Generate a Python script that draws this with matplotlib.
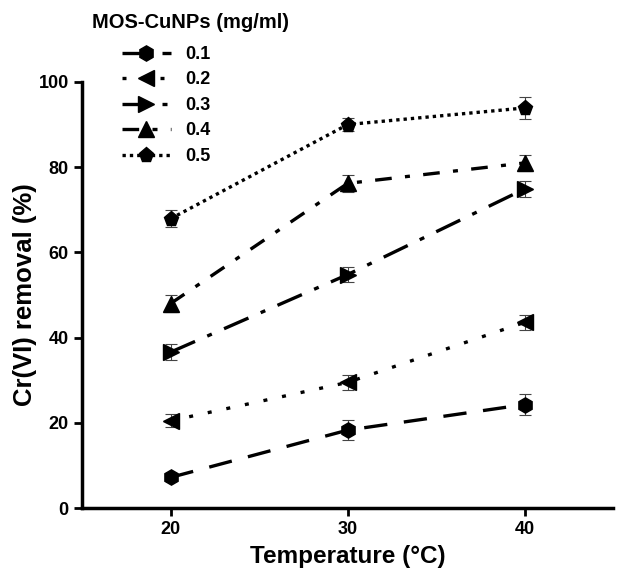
import numpy as np
import matplotlib.pyplot as plt

plt.rcParams['font.family'] = ['Liberation Sans', 'DejaVu Sans']
plt.rcParams['font.weight'] = 'bold'

temps = [20, 30, 40]
doses = ['0.1', '0.2', '0.3', '0.4', '0.5']
removal = {
    '0.1': [7.2, 18.3, 24.3],
    '0.2': [20.5, 29.5, 43.6],
    '0.3': [36.6, 54.8, 74.9],
    '0.4': [48.0, 76.2, 81.0],
    '0.5': [67.9, 90.0, 93.9],
}
errors = {
    '0.1': [0.8, 2.3, 2.5],
    '0.2': [1.5, 1.8, 1.8],
    '0.3': [1.8, 1.8, 1.8],
    '0.4': [2.0, 2.0, 1.8],
    '0.5': [2.0, 1.5, 2.5],
}
markers = ['h', '<', '>', '^', 'p']
styles = [(0, (7, 5)), (0, (1.2, 4.5)), (0, (8, 4, 1.5, 4)), (0, (5, 4, 1.5, 4)), (0, (1, 1.2))]

W, H = 617, 569
fig = plt.figure(figsize=(W / 100, H / 100), dpi=100)
ax = fig.add_axes([0.133, 0.107, 0.861, 0.749])

for d, m, ls in zip(doses, markers, styles):
    ax.errorbar(temps, removal[d], yerr=errors[d], fmt='none', ecolor='#444444',
                elinewidth=0.8, capsize=4, capthick=0.8, zorder=2)
    ax.plot(temps, removal[d], color='black', linestyle=ls, linewidth=2.4,
            marker=m, markersize=11, label=d, zorder=3)

ax.set_xlim(15, 45)
ax.set_ylim(0, 100)
ax.set_xticks(temps)
ax.set_yticks([0, 20, 40, 60, 80, 100])
ax.tick_params(width=2, length=6, labelsize=13)
for s in ['top', 'right']:
    ax.spines[s].set_visible(False)
for s in ['left', 'bottom']:
    ax.spines[s].set_linewidth(2.5)

ax.set_xlabel('Temperature (°C)', fontsize=17.5, fontweight='bold', labelpad=5)
ax.set_ylabel('Cr(VI) removal (%)', fontsize=18.5, fontweight='bold', labelpad=1)

# legend: title drawn as its own text so it can sit left of the entries
fig.text(92 / W, 1 - 22 / H, 'MOS-CuNPs (mg/ml)', fontsize=14.5, fontweight='bold',
         ha='left', va='center')
ax.legend(loc='upper left', bbox_to_anchor=(122 / W, 1 - 46 / H),
          bbox_transform=fig.transFigure, frameon=False, fontsize=13,
          handlelength=2.7, handletextpad=0.8, labelspacing=0.47,
          borderpad=0, borderaxespad=0)

fig.savefig('out.png', dpi=100)
